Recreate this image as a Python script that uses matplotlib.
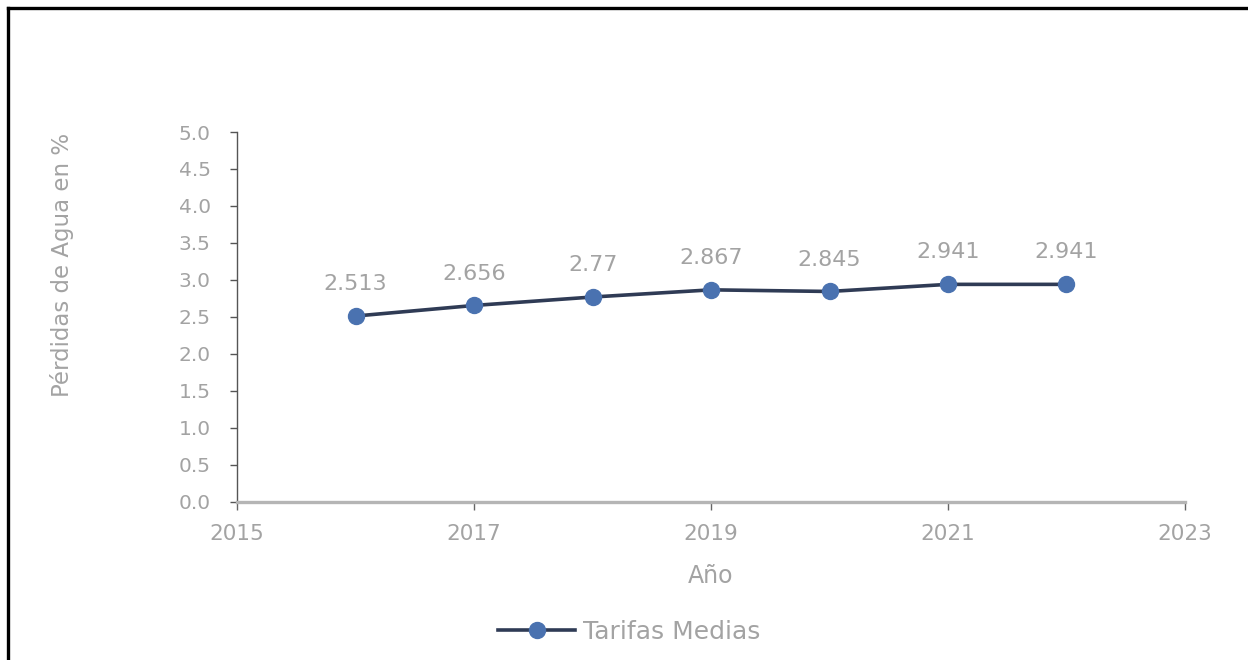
import matplotlib
matplotlib.use("Agg")
from matplotlib import pyplot as plt
from matplotlib.lines import Line2D

years = [2016, 2017, 2018, 2019, 2020, 2021, 2022]
tarifas = [2.513, 2.656, 2.77, 2.867, 2.845, 2.941, 2.941]
labels = ["2.513", "2.656", "2.77", "2.867", "2.845", "2.941", "2.941"]

xticks = [2015, 2017, 2019, 2021, 2023]
yticks = [0.0, 0.5, 1.0, 1.5, 2.0, 2.5, 3.0, 3.5, 4.0, 4.5, 5.0]

text_grey = "#a3a3a3"
line_dark = "#2f3b55"
marker_blue = "#4a72b0"

plt.rcParams['font.family'] = ['DejaVu Sans']

fig = plt.figure(figsize=(12.48, 6.6), dpi=100)
ax = fig.add_axes([0.19, 0.2394, 0.7595, 0.5606])

ax.plot(years, tarifas, color=line_dark, linewidth=2.6, marker="o",
        markersize=11.5, markerfacecolor=marker_blue, markeredgecolor=marker_blue,
        label="Tarifas Medias")

for x, y, s in zip(years, tarifas, labels):
    ax.annotate(s, (x, y), xytext=(0, 23), textcoords="offset points",
                ha="center", va="center", fontsize=16, color=text_grey)

ax.set_xlim(2015, 2023)
ax.set_ylim(0, 5.0)
ax.set_xticks(xticks)
ax.set_yticks(yticks)
ax.set_yticklabels(["%.1f" % v for v in yticks])

ax.spines["top"].set_visible(False)
ax.spines["right"].set_visible(False)
ax.spines["left"].set_color("#555555")
ax.spines["left"].set_linewidth(1.0)
ax.spines["bottom"].set_color("#b5b5b5")
ax.spines["bottom"].set_linewidth(2.4)

ax.tick_params(axis="y", direction="out", length=5, width=1, color="#555555",
               labelsize=14.5, labelcolor=text_grey, pad=14)
ax.tick_params(axis="x", direction="out", length=6, width=1, color="#666666",
               labelsize=15.5, labelcolor=text_grey, pad=10)

ax.set_xlabel("Año", fontsize=17, color=text_grey, labelpad=14)
ax.set_ylabel("Pérdidas de Agua en %", fontsize=16.5, color=text_grey)
ax.yaxis.set_label_coords(-0.172, 0.64)

leg = fig.legend(loc="center", bbox_to_anchor=(0.504, 0.043), frameon=False,
                 fontsize=18, handlelength=3.1, handletextpad=0.3)
for t in leg.get_texts():
    t.set_color(text_grey)

# outer frame: left and top edges only
fig.add_artist(Line2D([7.5 / 1248, 7.5 / 1248], [0, 1 - 8 / 660],
                      transform=fig.transFigure, color="black", linewidth=2.4))
fig.add_artist(Line2D([7.5 / 1248, 1], [1 - 8 / 660, 1 - 8 / 660],
                      transform=fig.transFigure, color="black", linewidth=2.4))

fig.savefig("out.png", dpi=100)
